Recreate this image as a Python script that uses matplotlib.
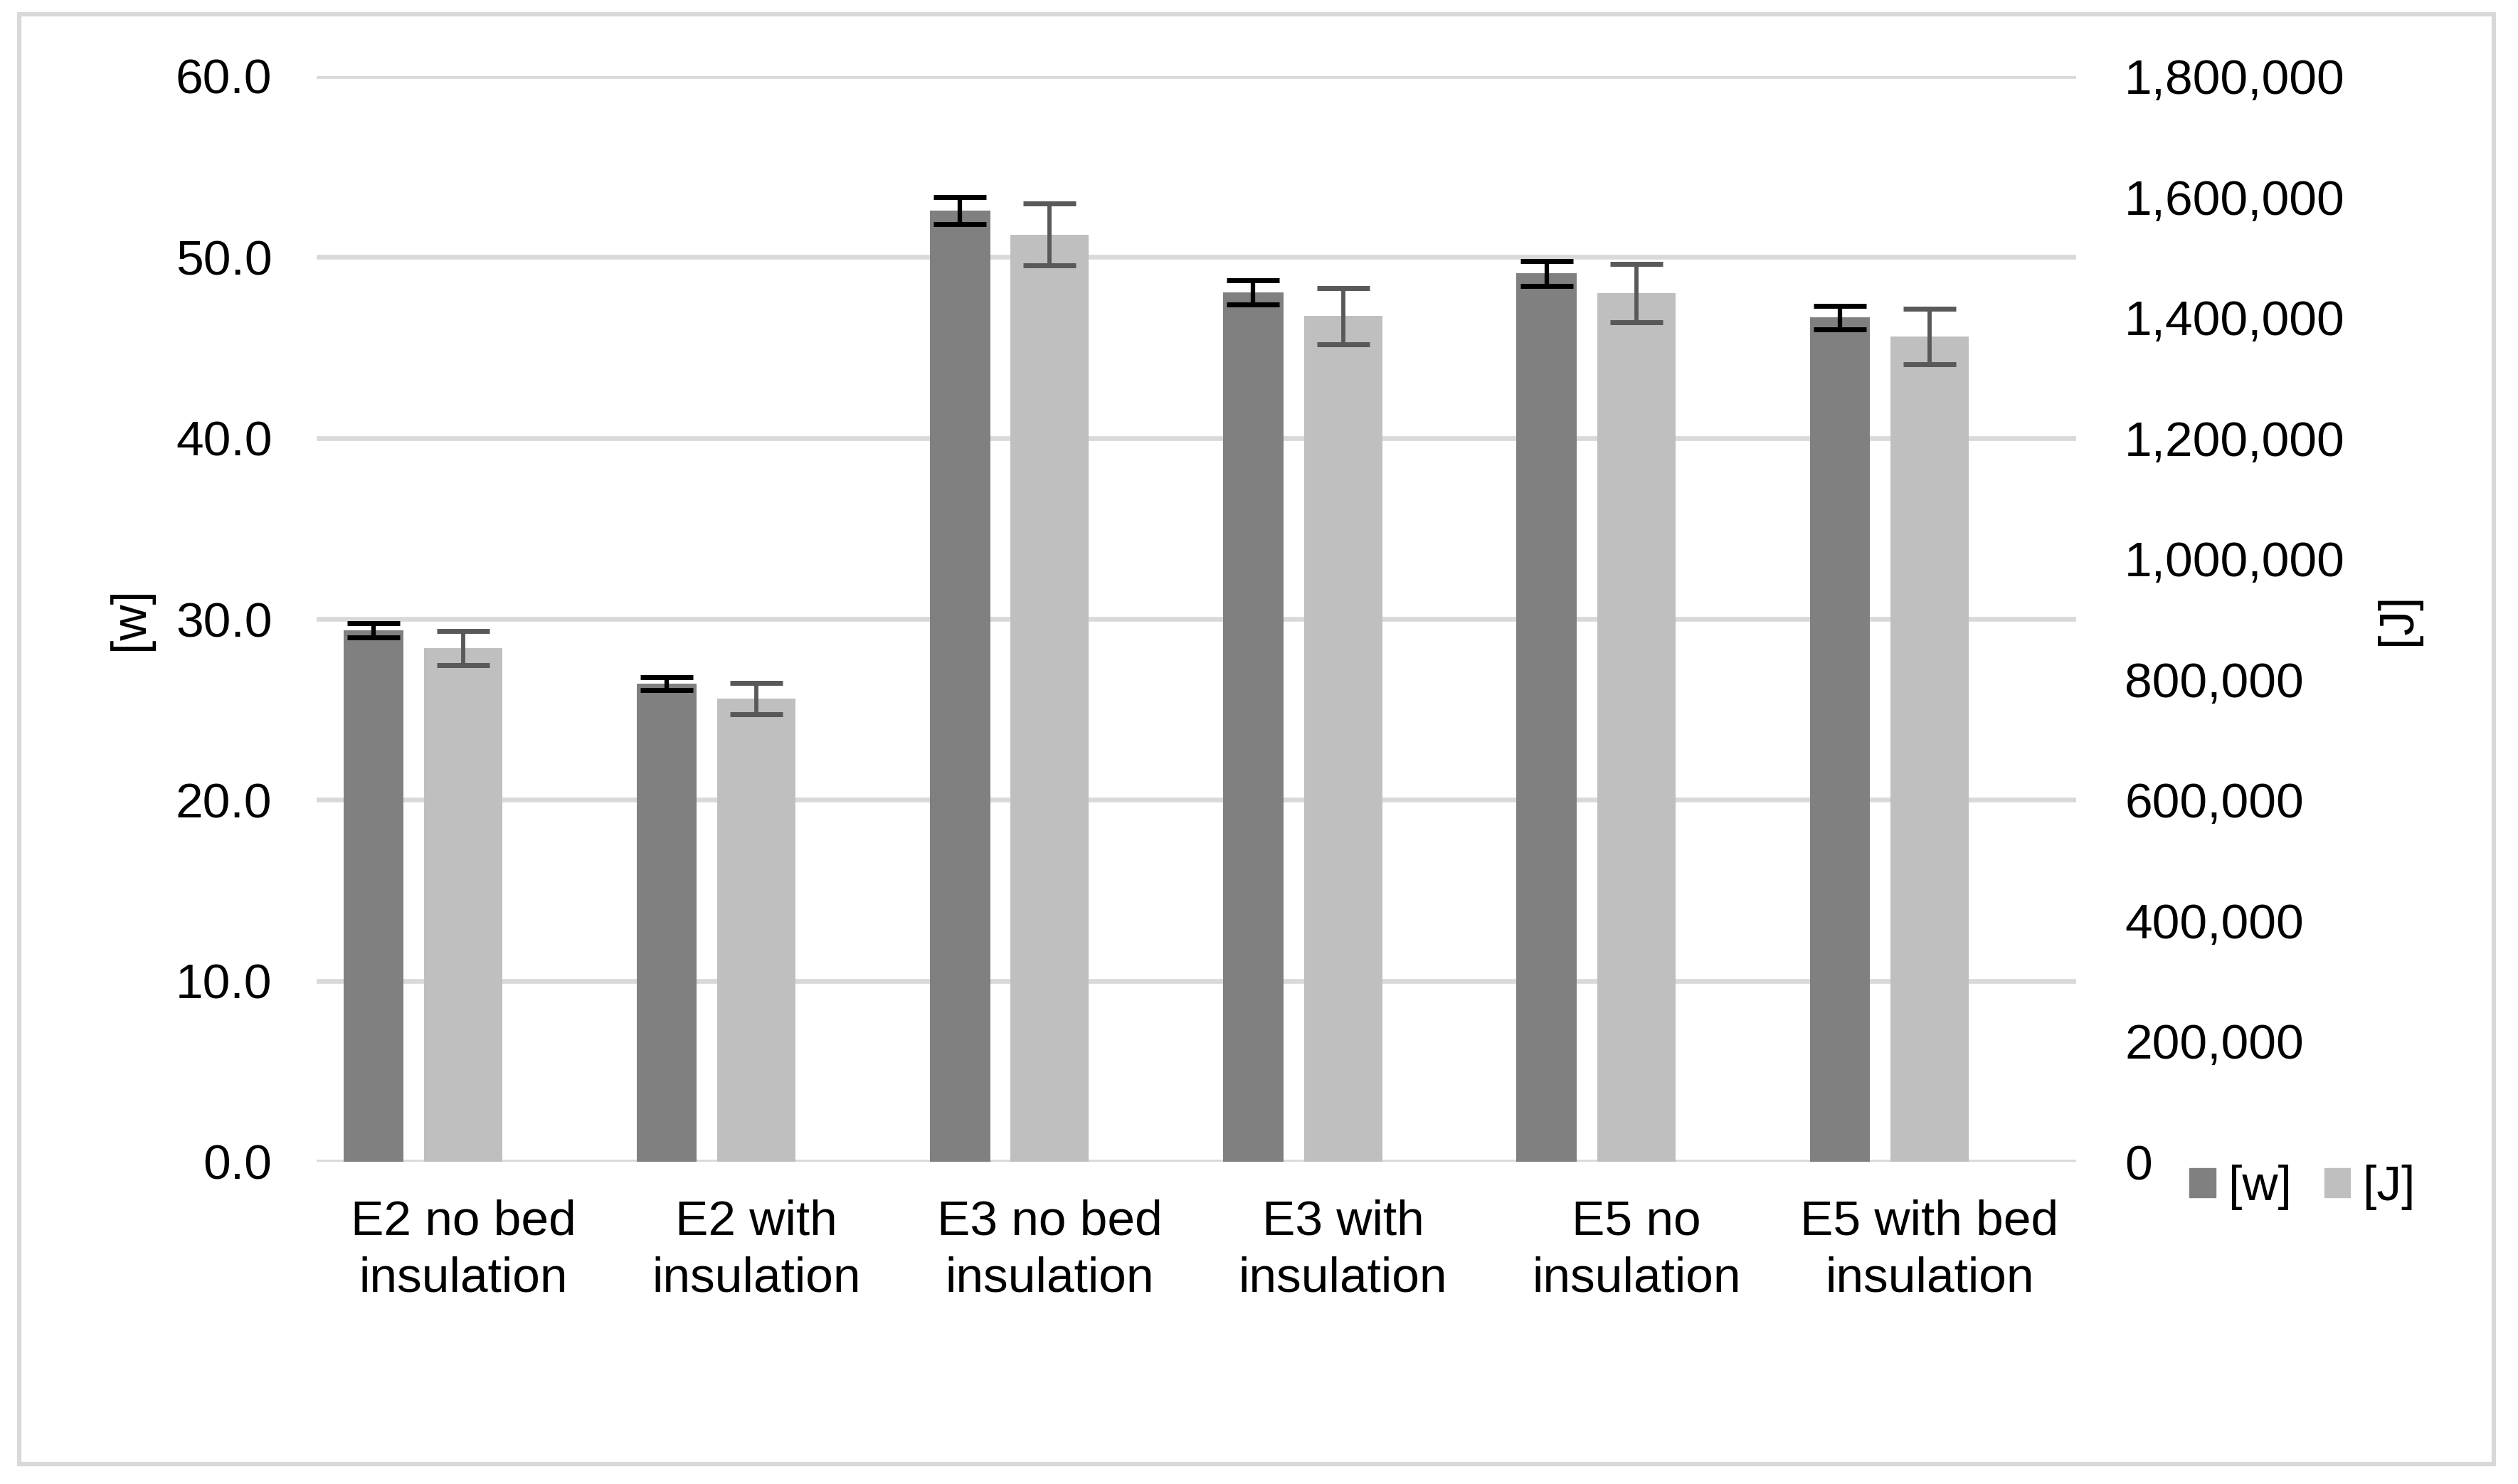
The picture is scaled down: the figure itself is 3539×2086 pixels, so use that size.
import matplotlib
matplotlib.use("Agg")
import matplotlib.pyplot as plt
import numpy as np
from matplotlib.patches import Rectangle, Patch
from matplotlib.ticker import FuncFormatter

categories = ["E2 no bed\ninsulation", "E2 with\ninsulation", "E3 no bed\ninsulation",
              "E3 with\ninsulation", "E5 no\ninsulation", "E5 with bed\ninsulation"]
power_w = [29.37, 26.42, 52.58, 48.06, 49.10, 46.66]
power_err = [0.41, 0.37, 0.74, 0.67, 0.69, 0.65]
energy_j = [852000, 768000, 1537000, 1402000, 1440000, 1368000]
energy_err = [28500, 25800, 51300, 46800, 48300, 45900]

plt.rcParams['font.family'] = ['Liberation Sans', 'DejaVu Sans']
FS = 50

W, H = 3539, 2086
fig = plt.figure(figsize=(W / 100, H / 100), dpi=100)
ax = fig.add_axes([445 / W, 1 - 1633 / H, 2473 / W, (1633 - 107) / H])
ax2 = ax.twinx()

x = np.arange(len(categories))
dark = '#808080'
light = '#bfbfbf'

ax.bar(x - 0.306, power_w, width=0.205, color=dark, zorder=3)
ax.errorbar(x - 0.306, power_w, yerr=power_err, fmt='none', ecolor='black',
            elinewidth=4.5, capsize=26.5, capthick=5, zorder=4)
ax2.bar(x, energy_j, width=0.267, color=light, zorder=3)
ax2.errorbar(x, energy_j, yerr=energy_err, fmt='none', ecolor='#595959',
             elinewidth=4.2, capsize=26.5, capthick=5, zorder=4)

ax.set_xlim(-0.5, len(categories) - 0.5)
ax.set_ylim(0, 60)
ax2.set_ylim(0, 1800000)
ax.set_yticks(np.arange(0, 61, 10))
ax2.set_yticks(np.arange(0, 1800001, 200000))
ax.yaxis.set_major_formatter(FuncFormatter(lambda v, p: f"{v:.1f}"))
ax2.yaxis.set_major_formatter(FuncFormatter(lambda v, p: f"{v:,.0f}"))
ax.set_xticks(x)
ax.set_xticklabels(categories, fontsize=FS, linespacing=1.32)

ax.grid(axis='y', color='#d9d9d9', linewidth=4.8, zorder=0)
ax.set_axisbelow(True)
for a in (ax, ax2):
    for s in a.spines.values():
        s.set_visible(False)
ax.tick_params(axis='y', length=0, labelsize=FS, pad=45)
ax.tick_params(axis='x', length=0, labelsize=FS, pad=38)
ax2.tick_params(axis='y', length=0, labelsize=FS, pad=49)

fig.text(183 / W, 1 - 870 / H, "[w]", rotation=90, ha='center', va='center', fontsize=FS)
fig.text(3370 / W, 1 - 870 / H, "[J]", rotation=90, ha='center', va='center', fontsize=FS)

handles = [Patch(color=dark, label='[w]'), Patch(color=light, label='[J]')]
fig.legend(handles=handles, loc='center left', bbox_to_anchor=(3077 / W, 1 - 1669 / H),
           ncol=2, frameon=False, fontsize=FS, handlelength=0.53, handleheight=0.53,
           handletextpad=0.26, columnspacing=0.66, borderpad=0, borderaxespad=0)

fig.patches.append(Rectangle((27 / W, 1 - 2058 / H), (3505 - 27) / W, (2058 - 20) / H,
                             transform=fig.transFigure, fill=False, ec='#d9d9d9', lw=4.5))

fig.savefig("out.png", dpi=100, facecolor='white')
